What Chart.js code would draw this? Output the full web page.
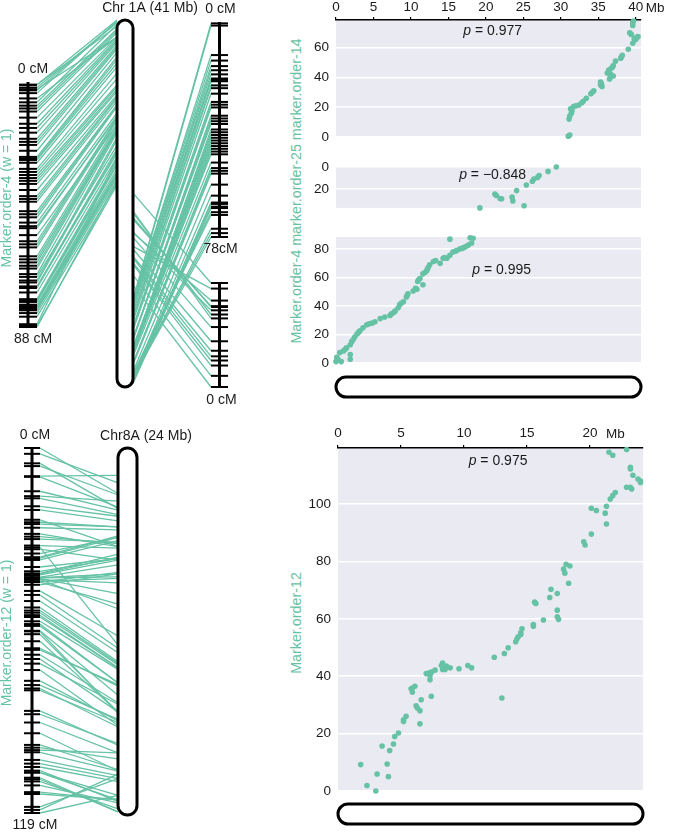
<!DOCTYPE html>
<html>
<head>
<meta charset="utf-8">
<script src="https://cdn.jsdelivr.net/npm/chart.js@4.4.1/dist/chart.umd.min.js"></script>
<style>
  html, body { margin: 0; padding: 0; background: #fff; }
  #wrap { position: relative; width: 673px; height: 832px; overflow: hidden; font-family: "Liberation Sans", Arial, sans-serif; }
  #wrap canvas { position: absolute; }
  .ytitle { position: absolute; color: #66c2a5; font-size: 14.3px; white-space: nowrap; transform: translate(-50%, -50%) rotate(-90deg); }
</style>
</head>
<body>
<div id="wrap">
  <div class="ytitle" style="left:296px; top:191px;">Marker.order-4 marker.order-25 marker.order-14</div>
  <div class="ytitle" style="left:296px; top:623px;">Marker.order-12</div>
</div>
<script>
// ---- chromosome lengths (Mb) ----
const chr1aLen = 40.7;
const chr8aLen = 24.2;

// ---- tick labels ----
const chr1aMbTicks = [0, 5, 10, 15, 20, 25, 30, 35, 40];
const chr8aMbTicks = [0, 5, 10, 15, 20];
const order14Ticks = [0, 20, 40, 60];
const order25Ticks = [0, 20];
const order4Ticks = [0, 20, 40, 60, 80];
const order12Ticks = [0, 20, 40, 60, 80, 100];

// ---- marker.order-4 on Chr 1A (physical Mb vs genetic cM) ----
const order4Mb = [0.0, 0.7, 0.3, 1.9, 0.2, 0.1, 1.9, 0.5, 1.0, 1.2, 1.4, 1.9, 2.1, 2.3, 2.5, 2.8, 3.0, 3.2, 3.6, 4.1,
  4.4, 4.8, 5.2, 5.9, 6.5, 7.2, 7.4, 7.7, 7.9, 8.3, 8.5, 8.7, 9.0, 9.4, 9.5, 9.6, 10.3, 10.8, 10.6, 11.6,
  10.9, 11.0, 11.2, 11.6, 11.9, 12.1, 12.2, 12.3, 12.5, 13.9, 13.0, 13.3, 14.3, 14.8, 14.5, 15.2, 15.6, 15.9, 16.1, 16.5,
  16.8, 17.0, 17.2, 17.4, 17.7, 18.1, 15.2, 18.3, 17.9];
const order4cM = [1, 1, 2, 2.6, 3, 4, 5.9, 7.3, 8.5, 9.5, 10.6, 12.8, 15, 16.5, 18.2, 20.4, 21.5, 22.6, 24.7, 26.9,
  27.5, 28, 29, 31.2, 32.3, 33.4, 34.5, 35.5, 36.6, 38.8, 41, 42, 43, 46.4, 47.5, 48.6, 50.5, 51.8, 52.5, 55,
  57.2, 58.3, 59.4, 62.6, 63.7, 64.8, 66, 67, 69, 70, 71.3, 72, 73.5, 73.5, 74, 75.6, 78, 78.5, 79, 80,
  80.5, 81, 81.5, 82, 83, 84.3, 87, 87.6, 88];

// ---- marker.order-14 on Chr 1A ----
const order14Mb = [31.0, 31.2, 31.1, 31.2, 31.4, 31.5, 31.3, 31.7, 32.0, 32.4, 32.8, 33.0, 33.4, 34.0, 34.2,
  34.4, 35.5, 35.3, 35.4, 35.3, 36.5, 36.6, 37.0, 36.7, 36.2, 36.4, 36.4, 36.7, 36.9, 37.0,
  37.3, 38.0, 38.1, 38.2, 39.0, 39.6, 40.0, 39.8, 40.1, 40.3, 39.4, 39.2, 39.6, 39.6, 39.7];
const order14cM = [0.5, 1.3, 12, 14, 16, 17.5, 19, 20.5, 21, 21.5, 23, 24, 26, 29, 30,
  31, 34, 35, 36, 37, 39, 40, 41, 42, 43, 44, 45, 46, 47, 48,
  51, 53, 54, 55, 59, 63, 65.5, 66, 67, 67.5, 69, 70, 75, 76.6, 78];

// ---- marker.order-25 on Chr 1A ----
const order25Mb = [29.4, 28.3, 27.1, 26.9, 26.4, 26.2, 25.4, 24.1, 21.2, 21.4, 23.5, 21.9, 22.1, 23.6, 25.1, 19.2];
const order25cM = [0, 4, 7.7, 9.5, 11, 13, 16.4, 21.5, 24.6, 26, 27.5, 28.7, 29, 31, 35.3, 37.3];

// ---- marker.order-12 on Chr8A ----
const order12Mb = [3.0, 2.3, 4.0, 3.1, 1.8, 3.9, 4.1, 3.5, 4.4, 4.5, 4.8, 6.5, 5.2, 5.2, 5.4, 6.5, 6.3, 6.2, 6.6, 13.0,
  7.4, 5.9, 5.8, 5.9, 6.1, 7.3, 7.3, 7.0, 7.2, 7.4, 7.7, 8.3, 8.5, 9.6, 10.6, 8.9, 8.6, 8.2, 10.3, 8.3,
  12.4, 13.2, 13.5, 14.1, 14.2, 14.3, 14.5, 14.5, 14.6, 15.5, 15.5, 16.3, 17.5, 17.4, 17.4, 15.7, 15.6, 16.8, 17.4, 16.9,
  18.3, 18.0, 17.9, 18.4, 18.1, 19.6, 19.5, 20.1, 21.3, 21.2, 20.5, 20.1, 21.3, 21.6, 21.8, 22.0, 23.3, 22.9, 23.2, 24.0,
  24.0, 23.8, 23.4, 23.2, 23.2, 21.8, 21.5, 22.9];
const order12cM = [0, 1.9, 5, 5.9, 9.2, 9.4, 14.1, 15.7, 16.4, 19, 20.2, 23.4, 24.2, 24.8, 26, 28, 28.9, 29.7, 31.8, 32.4,
  33, 34.4, 35.6, 35.9, 36.5, 38.8, 40.2, 40.9, 41.1, 41.4, 42.1, 42.3, 42.3, 42.6, 42.9, 42.9, 43.5, 43.7, 43.7, 44.6,
  46.6, 47.9, 49.9, 52, 53, 53.7, 54.5, 55.1, 56.5, 57.4, 58, 59.6, 59.8, 60.7, 63, 65.3, 65.8, 67.4, 68.8, 70.3,
  72.4, 75.9, 77.3, 78.4, 79, 85.7, 86.8, 89.5, 93, 96.8, 97.7, 98.5, 99.2, 101.7, 102.9, 104, 105.2, 105.8, 105.8, 107.5,
  108, 108.7, 110, 112.2, 112.8, 117, 118, 119];

// ---- correlations ----
const rho14 = '0.977', rho25 = '\u22120.848', rho4 = '0.995', rho12 = '0.975';

const TEAL = '#66c2a5';
const INK = '#1a1a1a';
const FONT = '"Liberation Sans", Arial, sans-serif';
const TXT = 14;

function makeCanvas(box) {
  const cv = document.createElement('canvas');
  cv.width = box.w; cv.height = box.h;
  cv.style.left = box.x + 'px'; cv.style.top = box.y + 'px';
  document.getElementById('wrap').appendChild(cv);
  return cv;
}

// hidden y axis limits so value v0 lands at pixel p0 and v1 at p1 on a canvas H tall
function fitY(v0, p0, v1, p1, H) {
  const k = (p1 - p0) / (v1 - v0);
  if (k > 0) { const min = v0 - p0 / k; return { reverse: true, min, max: min + H / k }; }
  const kk = -k, min = v0 - (H - p0) / kk;
  return { reverse: false, min, max: min + H / kk };
}

function roundBox(ctx, x, y, w, h, r) {
  ctx.beginPath();
  ctx.moveTo(x + r, y);
  ctx.arcTo(x + w, y, x + w, y + h, r);
  ctx.arcTo(x + w, y + h, x, y + h, r);
  ctx.arcTo(x, y + h, x, y, r);
  ctx.arcTo(x, y, x + w, y, r);
  ctx.closePath();
}

function chromBar(ctx, x, y, w, h) {
  ctx.save();
  roundBox(ctx, x, y, w, h, Math.min(w, h) / 2);
  ctx.fillStyle = '#fff'; ctx.fill();
  ctx.lineWidth = 3; ctx.strokeStyle = '#000'; ctx.stroke();
  ctx.restore();
}

function text(ctx, s, x, y, opts = {}) {
  ctx.save();
  ctx.font = (opts.size || TXT) + 'px ' + FONT;
  ctx.fillStyle = opts.color || INK;
  ctx.textAlign = opts.align || 'center';
  ctx.textBaseline = 'middle';
  if (opts.rotate) { ctx.translate(x, y); ctx.rotate(-Math.PI / 2); ctx.fillText(s, 0, 0); }
  else ctx.fillText(s, x, y);
  ctx.restore();
}

// linkage map vs chromosome panel
function mapChart(box, axes, maps, chrom, links, title) {
  const scales = { x: { type: 'linear', display: false, min: 0, max: box.w } };
  Object.keys(axes).forEach(k => { scales[k] = Object.assign({ type: 'linear', display: false }, axes[k]); });
  const datasets = [];
  maps.forEach(m => {
    datasets.push({ yAxisID: m.axis, showLine: true, data: [{ x: m.x, y: 0 }, { x: m.x, y: m.len }],
      borderColor: '#000', borderWidth: 3, pointRadius: 0 });
    datasets.push({ yAxisID: m.axis, data: m.cm.map(v => ({ x: m.x, y: v })),
      pointStyle: 'line', pointRadius: m.half, pointBorderColor: '#000', pointBorderWidth: 2 });
  });
  new Chart(makeCanvas(box), {
    type: 'scatter',
    data: { datasets },
    options: {
      responsive: false, animation: false, events: [],
      layout: { padding: 0, autoPadding: false },
      scales,
      plugins: { legend: { display: false }, tooltip: { enabled: false } }
    },
    plugins: [{
      id: 'links',
      beforeDatasetsDraw(chart) {
        const ctx = chart.ctx, sx = chart.scales.x;
        ctx.save();
        ctx.strokeStyle = TEAL; ctx.lineWidth = 1.3;
        links.forEach(l => {
          const ym = chart.scales[l.mapAxis], yc = chart.scales[chrom.axis];
          l.cm.forEach((c, i) => {
            ctx.beginPath();
            ctx.moveTo(sx.getPixelForValue(l.fromX), ym.getPixelForValue(c));
            ctx.lineTo(sx.getPixelForValue(l.toX), yc.getPixelForValue(l.mb[i]));
            ctx.stroke();
          });
        });
        ctx.restore();
      },
      afterDatasetsDraw(chart) {
        const sx = chart.scales.x, yc = chart.scales[chrom.axis];
        const x1 = sx.getPixelForValue(chrom.x1), x2 = sx.getPixelForValue(chrom.x2);
        const yTop = yc.getPixelForValue(0), yBot = yc.getPixelForValue(chrom.len);
        chromBar(chart.ctx, x1, yTop, x2 - x1, yBot - yTop);
      },
      afterDraw(chart) {
        const ctx = chart.ctx, sx = chart.scales.x, yc = chart.scales[chrom.axis];
        text(ctx, chrom.label, chrom.labelX, yc.getPixelForValue(0) - 12);
        maps.forEach(m => {
          const ys = chart.scales[m.axis], xc = sx.getPixelForValue(m.x) + (m.labelDx || 0);
          const p0 = ys.getPixelForValue(0), p1 = ys.getPixelForValue(m.len);
          if (m.startLabel) text(ctx, m.startLabel, xc, p0 + (p0 < p1 ? -13 : 13));
          if (m.endLabel) text(ctx, m.endLabel, xc, p1 + (p1 > p0 ? 12 : -12));
        });
        if (title) text(ctx, title.s, title.x, title.y, { color: TEAL, rotate: true });
      }
    }]
  });
}

// Mb vs cM scatter panel
function scatterPanel(box, area, opt) {
  const font = { family: FONT, size: 13.5 };
  const xScale = {
    type: 'linear', position: 'top', min: 0, max: opt.xMax, display: !!opt.xTicks,
    afterFit: s => { s.height = area.top; },
    afterBuildTicks: s => { if (opt.xTicks) s.ticks = opt.xTicks.map(v => ({ value: v })); },
    grid: { drawOnChartArea: false, drawTicks: true, tickLength: 3, color: '#000', lineWidth: 1.2 },
    border: { display: true, color: '#000', width: 1.5 },
    ticks: { font, color: INK, padding: opt.xPad || 2, maxRotation: 0, autoSkip: false }
  };
  const yScale = {
    type: 'linear', min: 0, max: opt.yMax, reverse: !!opt.reverse,
    afterFit: s => { s.width = area.left; },
    afterBuildTicks: s => { s.ticks = opt.yTicks.map(v => ({ value: v })); },
    grid: { color: '#fff', lineWidth: 1.6, drawTicks: false },
    border: { display: false },
    ticks: { font, color: INK, padding: 7 }
  };
  new Chart(makeCanvas(box), {
    type: 'scatter',
    data: { datasets: [{
      data: opt.mb.map((m, i) => ({ x: m, y: opt.cm[i] })),
      backgroundColor: TEAL, pointRadius: 2.8, pointBorderWidth: 0, clip: false
    }] },
    options: {
      responsive: false, animation: false, events: [],
      layout: { autoPadding: false, padding: { left: 0, right: box.w - area.right, top: opt.xTicks ? 0 : area.top, bottom: box.h - area.bottom } },
      scales: { x: xScale, y: yScale },
      plugins: { legend: { display: false }, tooltip: { enabled: false } }
    },
    plugins: [{
      id: 'panel',
      beforeDraw(chart) {
        const a = chart.chartArea, ctx = chart.ctx;
        ctx.save(); ctx.fillStyle = '#eaeaf2';
        ctx.fillRect(a.left, a.top, a.right - a.left, a.bottom - a.top);
        ctx.restore();
      },
      afterDraw(chart) {
        const ctx = chart.ctx, sx = chart.scales.x, sy = chart.scales.y, a = chart.chartArea;
        // rho annotation, italic p
        const cx = sx.getPixelForValue(opt.note.x), cy = sy.getPixelForValue(opt.note.y);
        ctx.save();
        ctx.fillStyle = INK; ctx.textBaseline = 'middle'; ctx.textAlign = 'left';
        ctx.font = 'italic ' + TXT + 'px ' + FONT;
        const wp = ctx.measureText('p').width;
        ctx.font = TXT + 'px ' + FONT;
        const rest = ' = ' + opt.note.s, wr = ctx.measureText(rest).width;
        const x0 = cx - (wp + wr) / 2;
        ctx.font = 'italic ' + TXT + 'px ' + FONT; ctx.fillText('p', x0, cy);
        ctx.font = TXT + 'px ' + FONT; ctx.fillText(rest, x0 + wp, cy);
        if (opt.xTicks) {
          ctx.font = '13.5px ' + FONT;
          ctx.textAlign = 'center'; ctx.textBaseline = 'bottom';
          ctx.fillText('Mb', sx.getPixelForValue(opt.mbAt), sx.bottom - 3 - (opt.xPad || 2));
        }
        ctx.restore();
        if (opt.chrom) {
          const x1 = sx.getPixelForValue(0), x2 = sx.getPixelForValue(opt.chrom);
          chromBar(ctx, x1, a.bottom + opt.barGap, x2 - x1, 20);
        }
      }
    }]
  });
}

// ---------- top left: Chr 1A linkage maps ----------
const topH = 420;
mapChart({ x: 0, y: 0, w: 300, h: topH },
  {
    yA: fitY(0, 82, 88, 327, topH),
    yB: fitY(0, 22, 78, 237, topH),
    yD: fitY(0, 387, 37.3, 283, topH),
    yC: fitY(0, 20, chr1aLen, 387, topH)
  },
  [
    { axis: 'yA', x: 28, half: 9, len: 88, cm: order4cM, startLabel: '0 cM', endLabel: '88 cM', labelDx: 5 },
    { axis: 'yB', x: 219.5, half: 8.5, len: 78, cm: order14cM, startLabel: '0 cM', endLabel: '78cM', labelDx: 1 },
    { axis: 'yD', x: 219.5, half: 8.5, len: 37.3, cm: order25cM, startLabel: '0 cM', labelDx: 2 }
  ],
  { axis: 'yC', x1: 117, x2: 133, len: chr1aLen, label: 'Chr 1A (41 Mb)', labelX: 150 },
  [
    { mapAxis: 'yA', fromX: 37, toX: 117, cm: order4cM, mb: order4Mb },
    { mapAxis: 'yB', fromX: 211, toX: 133, cm: order14cM, mb: order14Mb },
    { mapAxis: 'yD', fromX: 211, toX: 133, cm: order25cM, mb: order25Mb }
  ],
  { s: 'Marker.order-4 (w = 1)', x: 7, y: 198 }
);

// ---------- bottom left: Chr8A linkage map ----------
const botH = 412;
mapChart({ x: 0, y: 420, w: 300, h: botH },
  {
    yM: fitY(0, 28, 119, 393, botH),
    yC: fitY(0, 28, chr8aLen, 395, botH)
  },
  [
    { axis: 'yM', x: 32, half: 8, len: 119, cm: order12cM, startLabel: '0 cM', endLabel: '119 cM', labelDx: 3 }
  ],
  { axis: 'yC', x1: 118, x2: 137, len: chr8aLen, label: 'Chr8A (24 Mb)', labelX: 146 },
  [
    { mapAxis: 'yM', fromX: 40, toX: 118, cm: order12cM, mb: order12Mb }
  ],
  { s: 'Marker.order-12 (w = 1)', x: 7, y: 213 }
);

// ---------- top right: Chr 1A scatter panels ----------
scatterPanel({ x: 300, y: 0, w: 373, h: 152 }, { left: 36, top: 20, right: 341, bottom: 142 },
  { xMax: chr1aLen, xTicks: chr1aMbTicks, mbAt: 42.6, yMax: 78.7, yTicks: order14Ticks,
    mb: order14Mb, cm: order14cM, note: { x: 20.9, y: 71, s: rho14 } });

scatterPanel({ x: 300, y: 147, w: 373, h: 76 }, { left: 36, top: 10, right: 341, bottom: 66 },
  { xMax: chr1aLen, yMax: 37.3, reverse: true, yTicks: order25Ticks,
    mb: order25Mb, cm: order25cM, note: { x: 20.9, y: 7.3, s: rho25 } });

scatterPanel({ x: 300, y: 217, w: 373, h: 185 }, { left: 36, top: 10, right: 341, bottom: 146 },
  { xMax: chr1aLen, yMax: 88.5, yTicks: order4Ticks, chrom: chr1aLen, barGap: 14,
    mb: order4Mb, cm: order4cM, note: { x: 22.1, y: 65, s: rho4 } });

// ---------- bottom right: Chr8A scatter ----------
scatterPanel({ x: 300, y: 420, w: 373, h: 412 }, { left: 38, top: 28, right: 343, bottom: 371 },
  { xMax: chr8aLen, xTicks: chr8aMbTicks, xPad: 4, mbAt: 22.0, yMax: 119.5, yTicks: order12Ticks,
    chrom: chr8aLen, barGap: 13,
    mb: order12Mb, cm: order12cM, note: { x: 12.7, y: 115, s: rho12 } });
</script>
</body>
</html>
